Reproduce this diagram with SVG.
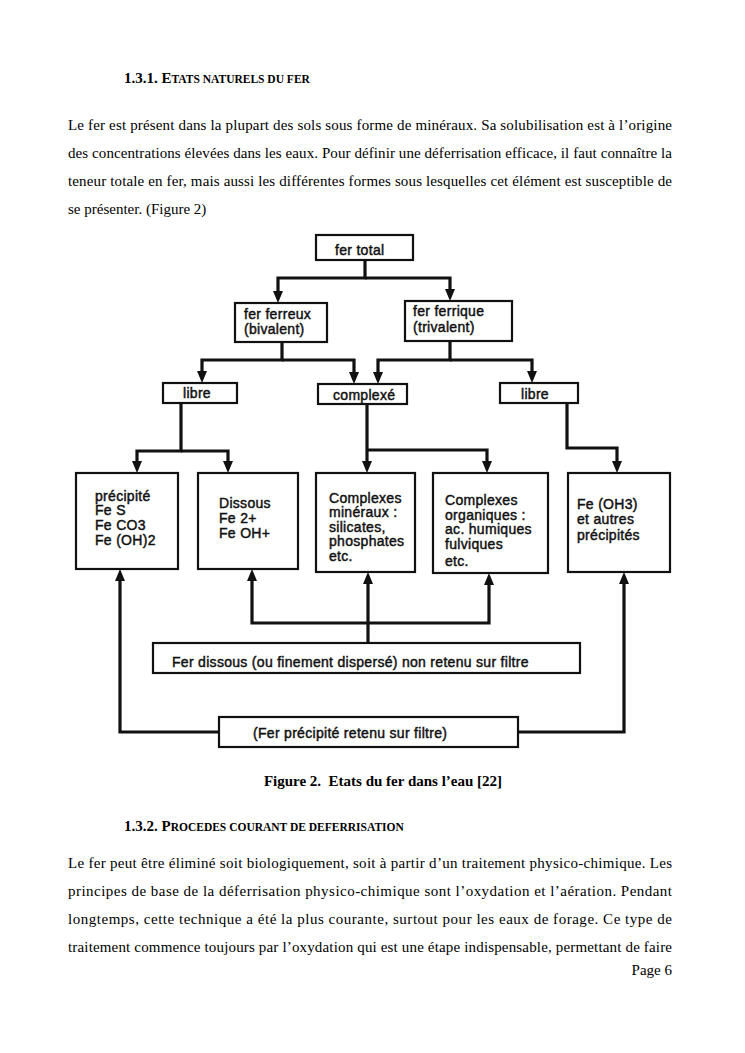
<svg xmlns="http://www.w3.org/2000/svg" width="745" height="1053" viewBox="0 0 745 1053">
<style>
.body{font-family:"Liberation Serif","Times New Roman",serif;font-size:15px;fill:#000}
.hd{font-family:"Liberation Serif","Times New Roman",serif;font-size:15px;font-weight:bold;fill:#000}
.sc{font-size:11.5px}
.lbl{font-family:"Liberation Sans",Arial,sans-serif;font-size:14px;letter-spacing:0.3px;fill:#111;stroke:#111;stroke-width:0.45}
.box{fill:#fff;stroke:#111;stroke-width:2.2}
.con{fill:none;stroke:#111;stroke-width:3.2;stroke-linejoin:miter}
</style>
<defs>
<marker id="ah" viewBox="0 0 12 10" refX="6" refY="5" markerWidth="12" markerHeight="10" markerUnits="userSpaceOnUse" orient="auto">
<path d="M0,0 L12,5 L0,10 z" fill="#111"/>
</marker>
</defs>
<rect width="745" height="1053" fill="#fff"/>

<text class="hd" x="124" y="83" xml:space="preserve">1.3.1. E<tspan class="sc">TATS NATURELS DU FER</tspan></text>
<text class="body" x="68" y="130" textLength="604" lengthAdjust="spacing">Le fer est présent dans la plupart des sols sous forme de minéraux. Sa solubilisation est à l’origine</text>
<text class="body" x="68" y="158" textLength="604" lengthAdjust="spacing">des concentrations élevées dans les eaux. Pour définir une déferrisation efficace, il faut connaître la</text>
<text class="body" x="68" y="186" textLength="604" lengthAdjust="spacing">teneur totale en fer, mais aussi les différentes formes sous lesquelles cet élément est susceptible de</text>
<text class="body" x="68" y="214">se présenter. (Figure 2)</text>

<g id="connectors">
<path class="con" d="M365,260 V278 H278 V297" marker-end="url(#ah)"/>
<path class="con" d="M365,278 H450 V295" marker-end="url(#ah)"/>
<path class="con" d="M282,342 V360 H202 V377" marker-end="url(#ah)"/>
<path class="con" d="M282,360 H354 V378" marker-end="url(#ah)"/>
<path class="con" d="M450,341 V360 H378 V378" marker-end="url(#ah)"/>
<path class="con" d="M450,360 H532 V377" marker-end="url(#ah)"/>
<path class="con" d="M181,403 V451 H137 V467" marker-end="url(#ah)"/>
<path class="con" d="M181,451 H228 V467" marker-end="url(#ah)"/>
<path class="con" d="M367,404 V467" marker-end="url(#ah)"/>
<path class="con" d="M367,450 H487 V467" marker-end="url(#ah)"/>
<path class="con" d="M567,403 V448 H617 V467" marker-end="url(#ah)"/>
<path class="con" d="M368,643 V578" marker-end="url(#ah)"/>
<path class="con" d="M368,623 H252 V575" marker-end="url(#ah)"/>
<path class="con" d="M368,623 H489 V579" marker-end="url(#ah)"/>
<path class="con" d="M219,732 H120 V575" marker-end="url(#ah)"/>
<path class="con" d="M518,732 H624 V578" marker-end="url(#ah)"/>
</g>

<g id="fer-total">
<rect class="box" x="316" y="235" width="97" height="25"/>
<text class="lbl" x="335" y="255">fer total</text>
</g>
<g id="fer-ferreux">
<rect class="box" x="235" y="303" width="92" height="39"/>
<text class="lbl" x="244" y="319">fer ferreux</text>
<text class="lbl" x="244" y="334">(bivalent)</text>
</g>
<g id="fer-ferrique">
<rect class="box" x="405" y="301" width="107" height="40"/>
<text class="lbl" x="413" y="316">fer ferrique</text>
<text class="lbl" x="413" y="332">(trivalent)</text>
</g>
<g id="libre-1">
<rect class="box" x="163" y="383" width="74" height="20"/>
<text class="lbl" x="183" y="398">libre</text>
</g>
<g id="complexe">
<rect class="box" x="318" y="384" width="89" height="20"/>
<text class="lbl" x="333" y="400">complexé</text>
</g>
<g id="libre-2">
<rect class="box" x="500" y="383" width="78" height="20"/>
<text class="lbl" x="521" y="399">libre</text>
</g>
<g id="precipite">
<rect class="box" x="76" y="473" width="102" height="96"/>
<text class="lbl" x="95" y="501">précipité</text>
<text class="lbl" x="95" y="515">Fe S</text>
<text class="lbl" x="95" y="530">Fe CO3</text>
<text class="lbl" x="95" y="545">Fe (OH)2</text>
</g>
<g id="dissous">
<rect class="box" x="198" y="473" width="100" height="96"/>
<text class="lbl" x="219" y="508">Dissous</text>
<text class="lbl" x="219" y="523">Fe 2+</text>
<text class="lbl" x="219" y="538">Fe OH+</text>
</g>
<g id="complexes-mineraux">
<rect class="box" x="316" y="473" width="99" height="99"/>
<text class="lbl" x="329" y="503">Complexes</text>
<text class="lbl" x="329" y="517">minéraux :</text>
<text class="lbl" x="329" y="532">silicates,</text>
<text class="lbl" x="329" y="546">phosphates</text>
<text class="lbl" x="329" y="561">etc.</text>
</g>
<g id="complexes-organiques">
<rect class="box" x="433" y="473" width="115" height="100"/>
<text class="lbl" x="445" y="505">Complexes</text>
<text class="lbl" x="445" y="520">organiques :</text>
<text class="lbl" x="445" y="534">ac. humiques</text>
<text class="lbl" x="445" y="549">fulviques</text>
<text class="lbl" x="445" y="566">etc.</text>
</g>
<g id="fe-oh3">
<rect class="box" x="568" y="473" width="102" height="99"/>
<text class="lbl" x="577" y="509">Fe (OH3)</text>
<text class="lbl" x="577" y="524">et autres</text>
<text class="lbl" x="577" y="540">précipités</text>
</g>
<g id="non-retenu">
<rect class="box" x="153" y="643" width="427" height="30"/>
<text class="lbl" x="172" y="667">Fer dissous (ou finement dispersé) non retenu sur filtre</text>
</g>
<g id="retenu">
<rect class="box" x="219" y="717" width="299" height="30"/>
<text class="lbl" x="253" y="738">(Fer précipité retenu sur filtre)</text>
</g>

<text class="hd" x="383" y="786" text-anchor="middle" xml:space="preserve">Figure 2.  Etats du fer dans l’eau [22]</text>

<text class="hd" x="124" y="831" xml:space="preserve">1.3.2. P<tspan class="sc">ROCEDES COURANT DE DEFERRISATION</tspan></text>
<text class="body" x="68" y="868" textLength="604" lengthAdjust="spacing">Le fer peut être éliminé soit biologiquement, soit à partir d’un traitement physico-chimique. Les</text>
<text class="body" x="68" y="896" textLength="604" lengthAdjust="spacing">principes de base de la déferrisation physico-chimique sont l’oxydation et l’aération. Pendant</text>
<text class="body" x="68" y="924" textLength="604" lengthAdjust="spacing">longtemps, cette technique a été la plus courante, surtout pour les eaux de forage. Ce type de</text>
<text class="body" x="68" y="952" textLength="604" lengthAdjust="spacing">traitement commence toujours par l’oxydation qui est une étape indispensable, permettant de faire</text>
<text class="body" x="672" y="975" text-anchor="end">Page 6</text>
</svg>
